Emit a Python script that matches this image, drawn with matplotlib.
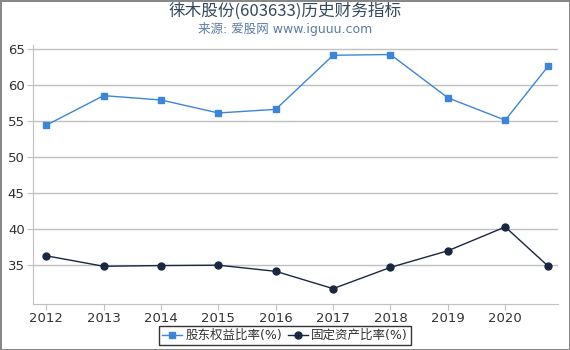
import matplotlib
matplotlib.use('Agg')
import matplotlib.pyplot as plt

plt.rcParams['font.family'] = ['DejaVu Sans', 'Noto Sans CJK SC']

years = [2012, 2013, 2014, 2015, 2016, 2017, 2018, 2019, 2020, 2020.75]
tick_years = [2012, 2013, 2014, 2015, 2016, 2017, 2018, 2019, 2020]
equity_ratio = [54.4, 58.5, 57.9, 56.1, 56.6, 64.1, 64.2, 58.2, 55.1, 62.6]
fixed_asset_ratio = [36.3, 34.85, 34.95, 35.0, 34.15, 31.75, 34.7, 37.0, 40.3, 34.85]

fig = plt.figure(figsize=(5.7, 3.5), dpi=100)
fig.patch.set_edgecolor('#888888')
fig.patch.set_linewidth(2)
ax = fig.add_axes([0.058, 0.131, 0.921, 0.74])

ax.plot(years, equity_ratio, color='#3d85d8', marker='s', markersize=5, linewidth=1,
        label='股东权益比率(%)')
ax.plot(years, fixed_asset_ratio, color='#1a2740', marker='o', markersize=5, linewidth=1,
        label='固定资产比率(%)')

ax.set_xlim(2011.77, 2020.92)
ax.set_ylim(29.6, 65.5)
ax.set_yticks([35, 40, 45, 50, 55, 60, 65])
ax.set_xticks(tick_years)
ax.grid(axis='y', color='#c0c0c0', linewidth=1)
ax.set_axisbelow(True)
for side in ['top', 'right']:
    ax.spines[side].set_visible(False)
ax.spines['left'].set_color('#c0c0c0')
ax.spines['bottom'].set_color('#c0c0c0')
ax.tick_params(colors='#c0c0c0', labelcolor='#333333', labelsize=9.5, length=4, pad=2)

fig.text(0.5, 0.968, '徕木股份(603633)历史财务指标', ha='center', va='center',
         fontsize=12, color='#34495e', family=['Noto Sans CJK SC', 'DejaVu Sans'])
fig.text(0.5, 0.918, '来源: 爱股网 www.iguuu.com', ha='center', va='center',
         fontsize=9, color='#5b7ba8')

leg = fig.legend(loc='lower center', bbox_to_anchor=(0.5, -0.004), ncol=2, fontsize=9,
                 frameon=True, fancybox=False, edgecolor='black', handlelength=1.6,
                 handletextpad=0.3, columnspacing=0.4, borderpad=0.25, labelcolor='#333333')
leg.get_frame().set_linewidth(1)

fig.savefig('out.png', dpi=100, edgecolor=fig.get_edgecolor())
